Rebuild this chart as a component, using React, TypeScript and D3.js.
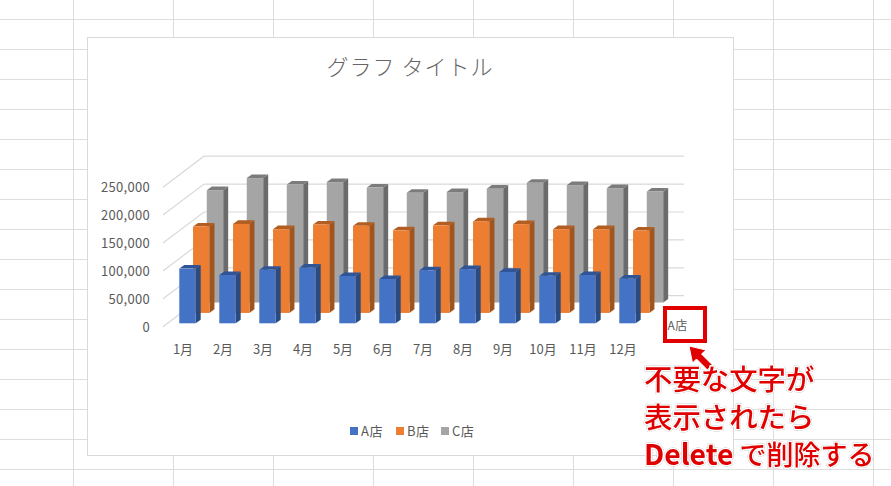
import * as d3 from "d3";

const months = ["1月", "2月", "3月", "4月", "5月", "6月", "7月", "8月", "9月", "10月", "11月", "12月"];
const storeA = [98000, 86500, 96000, 99600, 84800, 79400, 95000, 97000, 92000, 85000, 86500, 80000];
const storeB = [154800, 159500, 150000, 158400, 156000, 148000, 157000, 164000, 159000, 150000, 150000, 147700];
const storeC = [201400, 223000, 211500, 215800, 206000, 196600, 198000, 204000, 214500, 210400, 205000, 199000];
const yTicks = [0, 50000, 100000, 150000, 200000, 250000];

const seriesNames = ["A店", "B店", "C店"];
const seriesValues = [storeA, storeB, storeC];
const seriesColors = [
  { front: "#4472c4", side: "#2b4a80", top: "#2f5597" },
  { front: "#ed7d31", side: "#a0551f", top: "#b25d22" },
  { front: "#a5a5a5", side: "#6b6b6b", top: "#7c7c7c" },
];

const gridColor = "#dedede";
const labelColor = "#595959";
const red = "#e00000";
const jp = "'Noto Sans CJK JP', 'Noto Sans', sans-serif";

// 3D projection of the plot box
const depthX = 41;
const depthY = -31;
const floorY = 326.7;

const xScale = d3.scaleBand<string>().domain(months).range([163, 643]);
const heightScale = d3.scaleLinear().domain([0, 250000]).range([0, 139.5]);
// position of each store row inside the depth of the box (0 front, 1 back)
const depthScale = d3.scalePoint<string>().domain(seriesNames).range([0.11, 0.78]);

const barW = 16.4;
const barDX = 5;
const barDY = -3.6;

const pts = (p: number[][]) => p.map((d) => d.join(",")).join(" ");

function Bar({ month, series, value }: { month: string; series: number; value: number }) {
  const d = depthScale(seriesNames[series]) as number;
  const x0 = (xScale(month) as number) + 16.3 + d * depthX - 0.11 * depthX;
  const y0 = floorY - 3.4 + (d - 0.11) * depthY;
  const h = heightScale(value);
  const x1 = x0 + barW;
  const yt = y0 - h;
  const c = seriesColors[series];
  return (
    <g>
      <polygon fill={c.side} points={pts([[x1, y0], [x1 + barDX, y0 + barDY], [x1 + barDX, yt + barDY], [x1, yt]])} />
      <polygon fill={c.top} points={pts([[x0, yt], [x0 + barDX, yt + barDY], [x1 + barDX, yt + barDY], [x1, yt]])} />
      <rect x={x0} y={yt} width={barW} height={h} fill={c.front} />
    </g>
  );
}

export default function App() {
  const colLines = d3.range(73, 891, 100);
  const rowLines = d3.range(19, 486, 30);
  const haloStyle = {
    paintOrder: "stroke",
    filter: "drop-shadow(0.6px 0.8px 0.6px rgba(0,0,0,0.45))",
  } as const;

  return (
    <svg width={891} height={486} style={{ position: "absolute", left: 0, top: 0, background: "#fff" }} fontFamily={jp}>
      {/* sheet cells */}
      <g stroke={gridColor} strokeWidth={1}>
        {colLines.map((x) => (
          <line key={x} x1={x + 0.5} x2={x + 0.5} y1={0} y2={486} />
        ))}
        {rowLines.map((y) => (
          <line key={y} x1={0} x2={891} y1={y + 0.5} y2={y + 0.5} />
        ))}
      </g>

      {/* chart area */}
      <rect x={87.5} y={37.5} width={646} height={418} fill="#fff" stroke="#d9d9d9" />
      <text x={410} y={75} textAnchor="middle" fontSize={22} fontWeight={300} fill="#666" letterSpacing={1}>
        グラフ タイトル
      </text>

      {/* walls */}
      <g stroke="#d9d9d9" strokeWidth={1.2} fill="none">
        {yTicks.map((t) => {
          const y = floorY - heightScale(t);
          return <polyline key={t} points={pts([[163, y], [163 + depthX, y + depthY], [643 + depthX, y + depthY]])} />;
        })}
      </g>
      <g fontSize={13} fill={labelColor} textAnchor="end" letterSpacing={0.3}>
        {yTicks.map((t) => (
          <text key={t} x={150} y={floorY - heightScale(t) + 5}>
            {d3.format(",")(t)}
          </text>
        ))}
      </g>

      {/* back row first so the front rows cover it */}
      {[2, 1, 0].map((s) =>
        months.map((m, i) => <Bar key={`${s}-${m}`} month={m} series={s} value={seriesValues[s][i]} />),
      )}

      <g fontSize={13} fill={labelColor} textAnchor="middle">
        {months.map((m) => (
          <text key={m} x={(xScale(m) as number) + xScale.bandwidth() / 2} y={353.5}>
            {m}
          </text>
        ))}
      </g>

      {/* legend */}
      <g fontSize={13} fill={labelColor} letterSpacing={0.5}>
        {seriesNames.map((s, i) => {
          const x = [350, 396, 441][i];
          return (
            <g key={s}>
              <rect x={x} y={427} width={8} height={8} fill={seriesColors[i].front} />
              <text x={x + 11} y={435.5}>
                {s}
              </text>
            </g>
          );
        })}
      </g>

      {/* annotation */}
      <text x={667.5} y={329.5} fontSize={12} letterSpacing={0.4} fill={labelColor}>
        {seriesNames[0]}
      </text>
      <rect x={665} y={308} width={40} height={33} fill="none" stroke={red} strokeWidth={4} />
      <path d="M689 346 L706 350 L701.5 354 L712 364.5 L707.5 370 L696.5 359 L692.5 363 Z" fill={red} stroke="#fff" strokeWidth={1} />
      <g fontSize={28.4} fill={red} stroke="#fff" strokeWidth={3} strokeLinejoin="round" style={haloStyle} fontWeight={500}>
        <text x={644} y={390}>
          不要な文字が
        </text>
        <text x={644} y={428}>
          表示されたら
        </text>
        <text x={644} y={465}>
          <tspan fontWeight={700} fontSize={28.3}>Delete</tspan>
          <tspan dx={6} fontSize={27}>で削除する</tspan>
        </text>
      </g>
    </svg>
  );
}
